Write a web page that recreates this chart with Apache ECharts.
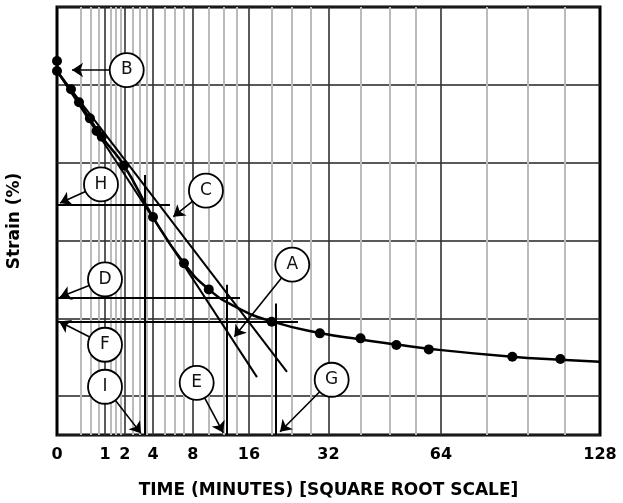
<!DOCTYPE html>
<html><head><meta charset="utf-8">
<script src="https://cdn.jsdelivr.net/npm/echarts@6/dist/echarts.min.js"></script>
<style>html,body{margin:0;padding:0;background:#fff}#c{width:623px;height:503px}</style>
</head><body><div id="c"></div>
<script>
// x axis: time in minutes, drawn on a square-root scale
const tickLabels = [0, 1, 2, 4, 8, 16, 32, 64, 128];
const majorGridT = [1, 2, 4, 8, 16, 32, 64];
const minorGridT = [0.25, 0.5, 0.75, 1.25, 1.5, 1.75, 2.5, 3, 3.5, 5, 6, 7, 10, 12, 14, 20, 24, 28, 40, 48, 56, 80, 96, 112];

// measured points (time in minutes, strain in %, strain grows downward)
const pointT      = [0,     0,     0.085, 0.21,  0.47,  0.68,  0.87,  1.95,  4,     7,     10,    20,    30,    40,    50,    60,    90,    110];
const pointStrain = [0.694, 0.823, 1.058, 1.225, 1.431, 1.594, 1.667, 2.037, 2.699, 3.294, 3.629, 4.045, 4.194, 4.258, 4.344, 4.400, 4.495, 4.524];

// fitted curve
const curveT      = [0,     0.21,  0.87,  1.95,  4,     7,     10,    14,    20,    30,    40,    50,    60,    90,    110,   128];
const curveStrain = [0.823, 1.225, 1.667, 2.037, 2.699, 3.294, 3.629, 3.860, 4.040, 4.190, 4.272, 4.336, 4.392, 4.495, 4.532, 4.559];

// construction lines: [t1, strain1, t2, strain2]
const constructionLines = [
  [0, 0.823, 17.36, 4.756],   // initial straight portion
  [0, 0.823, 22.96, 4.69],    // 1.15 x line (C)
  [3.32, 2.16, 3.32, 5.5],    // I
  [12.5, 3.57, 12.5, 5.5],    // E
  [20.8, 3.81, 20.8, 5.5],    // G
  [0, 2.536, 5.54, 2.536],    // H
  [0, 3.737, 14.54, 3.737],   // D
  [0, 4.04, 25.2, 4.04]       // F
];

// annotation callouts
const letters   = ['B',  'H',    'C',   'A',   'D',    'F',    'I',   'E',   'G'];
const circleT   = [2.11, 0.84,   9.63,  24.03, 1.0,    1.0,    1.0,   8.47,  32.75];
const circleV   = [0.81, 2.28,   2.36,  3.31,  3.50,   4.34,   4.88,  4.83,  4.79];
const arrowTipT = [0.098, 0.004, 5.87,  13.65, 0.004,  0.002,  3.06,  12.01, 21.59];
const arrowTipV = [0.81, 2.52,   2.695, 4.238, 3.728,  4.042,  5.479, 5.472, 5.459];

const sq = Math.sqrt;
const FONT = 'DejaVu Sans';

const chart = echarts.init(document.getElementById('c'), null, {renderer: 'canvas'});
const xBase = {
  type: 'value', min: 0, max: sq(128), gridIndex: 0,
  axisLine: {show: false}, axisTick: {show: false}
};
chart.setOption({
  animation: false,
  backgroundColor: '#fff',
  grid: {left: 57, top: 7, right: 23, bottom: 68, show: true, borderColor: '#000', borderWidth: 3, outerBoundsMode: 'none'},
  xAxis: [
    Object.assign({}, xBase, {
      z: 1,
      axisTick: {show: false, customValues: majorGridT.map(sq)},
      splitLine: {show: true, lineStyle: {color: '#333', width: 1.6}},
      axisLabel: {
        show: true, customValues: tickLabels.map(sq), margin: 12,
        formatter: v => String(Math.round(v * v)),
        fontFamily: FONT, fontWeight: 'bold', fontSize: 16, color: '#000'
      },
      name: 'TIME (MINUTES) [SQUARE ROOT SCALE]', nameLocation: 'middle', nameGap: 47,
      nameTextStyle: {fontFamily: FONT, fontWeight: 'bold', fontSize: 17, color: '#000'}
    }),
    Object.assign({}, xBase, {
      z: 0,
      axisTick: {show: false, customValues: minorGridT.map(sq)},
      splitLine: {show: true, lineStyle: {color: '#bbb', width: 2}},
      axisLabel: {show: false}
    })
  ],
  yAxis: {
    type: 'value', inverse: true, min: 0, max: 5.5, interval: 1,
    axisLine: {show: false}, axisTick: {show: false}, axisLabel: {show: false},
    splitLine: {show: true, lineStyle: {color: '#222', width: 1.6}},
    name: 'Strain (%)', nameLocation: 'middle', nameGap: 34, nameRotate: 90,
    nameTextStyle: {fontFamily: FONT, fontWeight: 'bold', fontSize: 17, color: '#000'}
  },
  series: [
    {
      type: 'lines', coordinateSystem: 'cartesian2d', xAxisIndex: 0, yAxisIndex: 0, z: 3,
      lineStyle: {color: '#000', width: 2, opacity: 1},
      symbol: ['none', 'none'],
      data: constructionLines.map(l => ({coords: [[sq(l[0]), l[1]], [sq(l[2]), l[3]]]}))
    },
    {
      type: 'line', xAxisIndex: 0, yAxisIndex: 0, z: 4, smooth: 0.5, showSymbol: false,
      lineStyle: {color: '#000', width: 2.5},
      data: curveT.map((t, i) => [sq(t), curveStrain[i]])
    },
    {
      type: 'scatter', xAxisIndex: 0, yAxisIndex: 0, z: 5, clip: false,
      symbolSize: 10, itemStyle: {color: '#000', opacity: 1},
      data: pointT.map((t, i) => [sq(t), pointStrain[i]])
    },
    {
      type: 'lines', coordinateSystem: 'cartesian2d', xAxisIndex: 0, yAxisIndex: 0, z: 6,
      lineStyle: {color: '#000', width: 1.6, opacity: 1},
      symbol: ['none', 'arrow'], symbolSize: [0, 11],
      data: letters.map((L, i) => ({coords: [[sq(circleT[i]), circleV[i]], [sq(arrowTipT[i]), arrowTipV[i]]]}))
    },
    {
      type: 'scatter', xAxisIndex: 0, yAxisIndex: 0, z: 7, clip: false,
      symbolSize: 34,
      itemStyle: {color: '#fff', borderColor: '#000', borderWidth: 1.8, opacity: 1},
      label: {show: true, position: 'inside', formatter: p => letters[p.dataIndex],
        fontFamily: FONT, fontSize: 17, color: '#111'},
      data: letters.map((L, i) => [sq(circleT[i]), circleV[i]])
    }
  ]
});
</script>
</body></html>
